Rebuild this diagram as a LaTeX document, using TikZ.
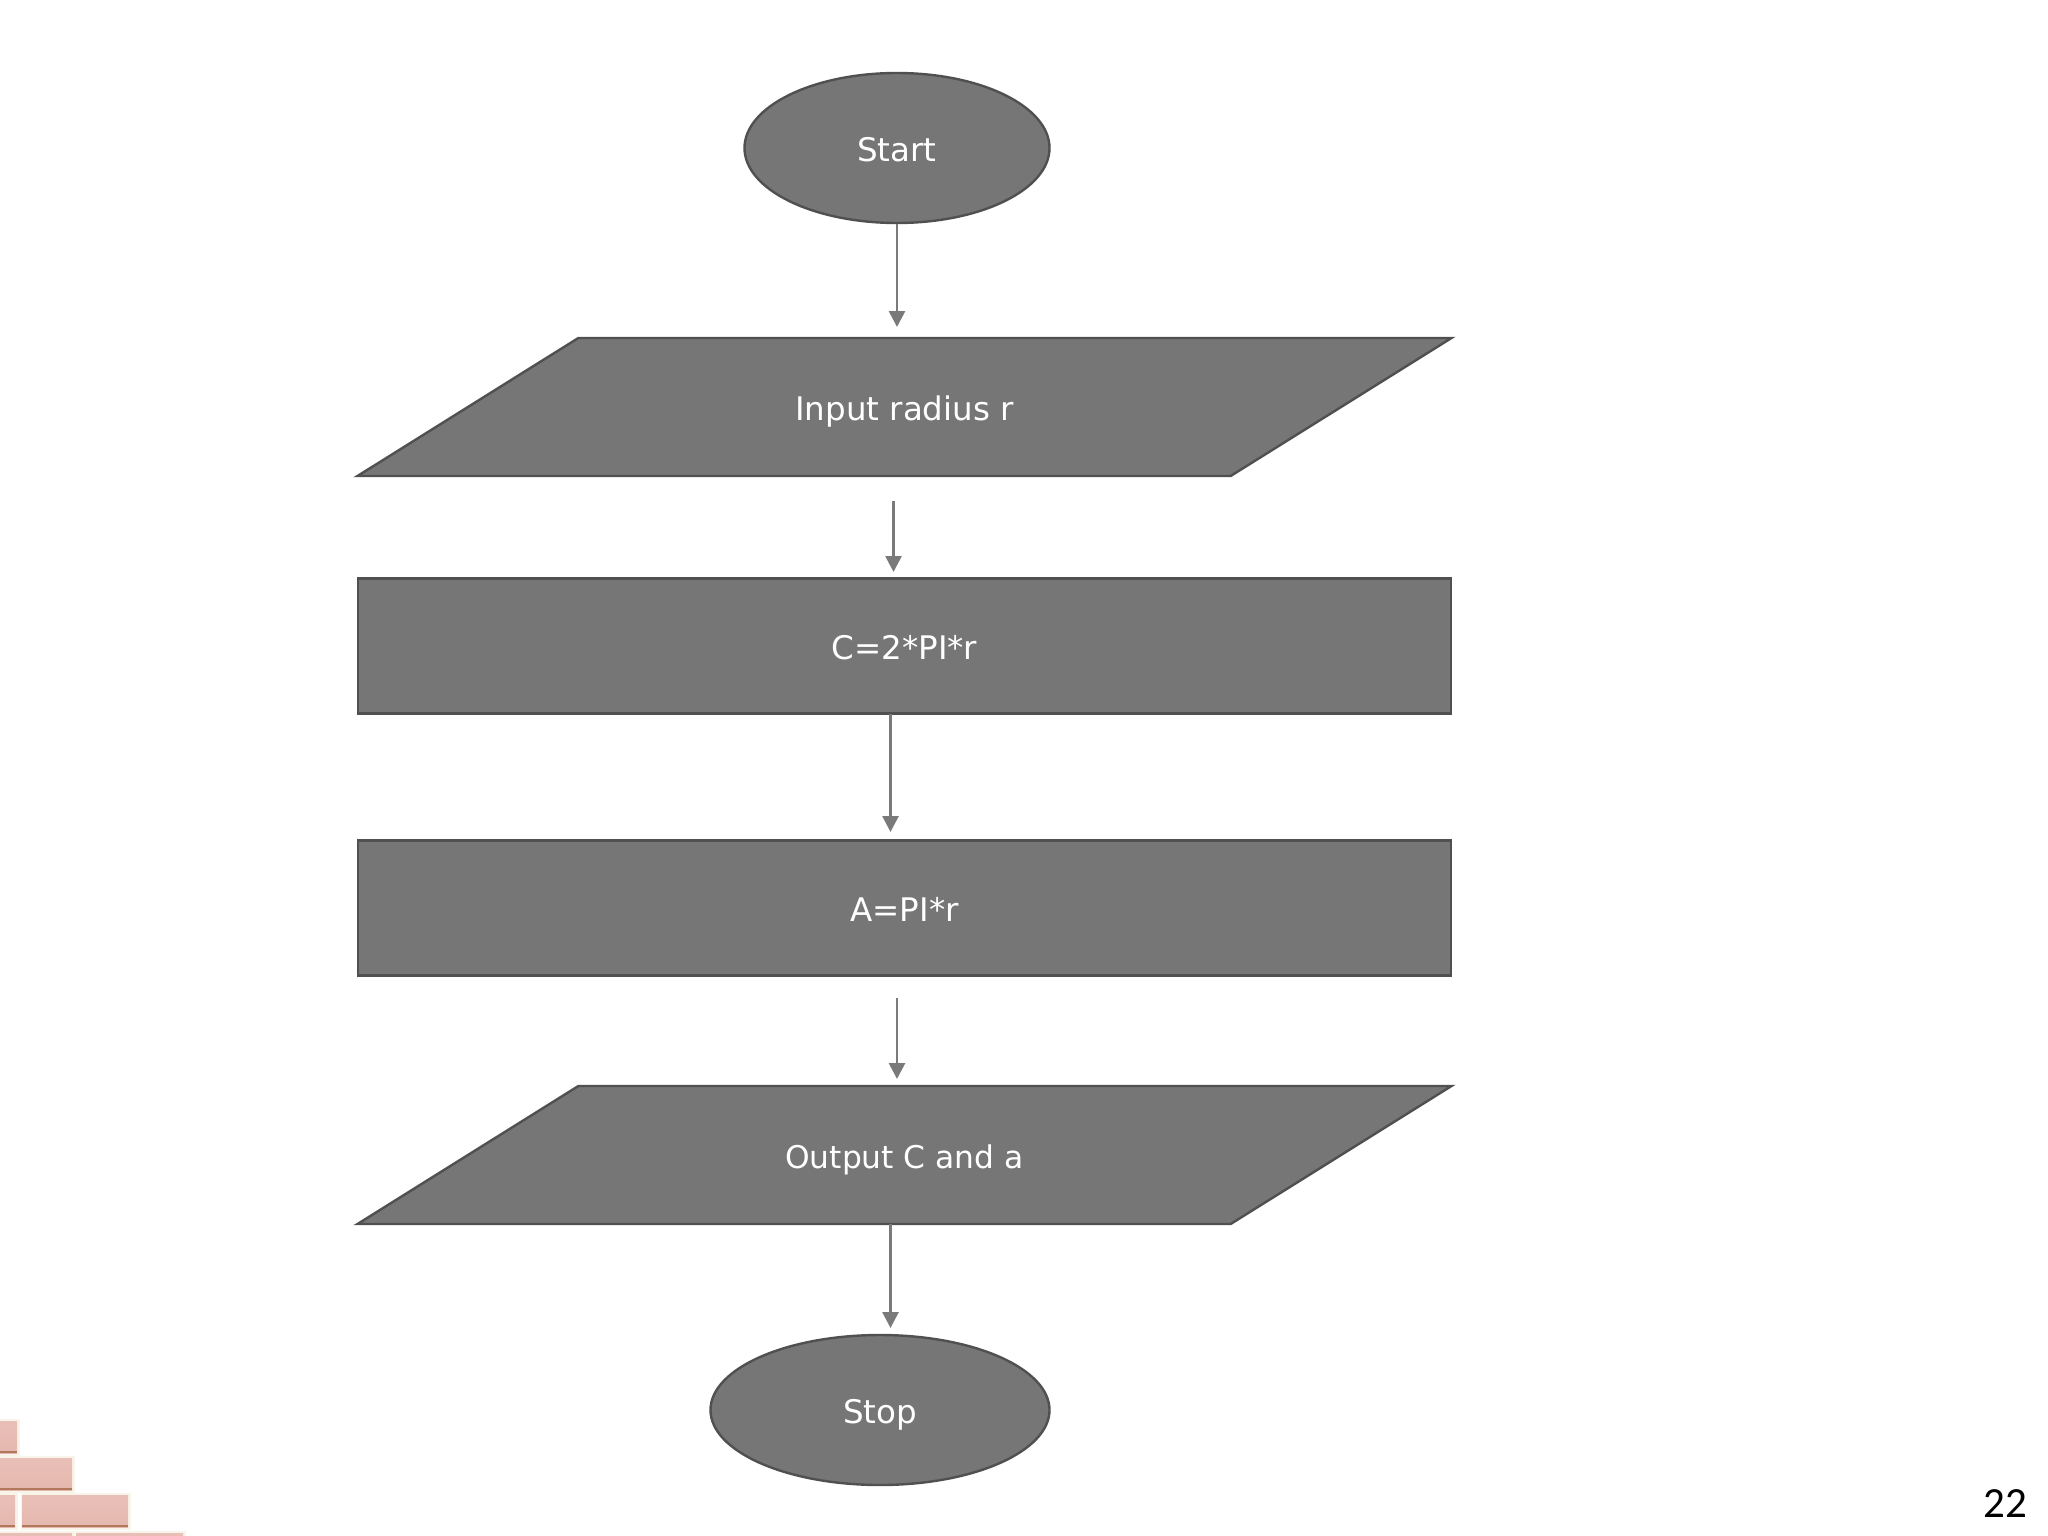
\documentclass[tikz,border=0pt]{standalone}
\usepackage{fontspec}
\setmainfont{DejaVu Sans}
\newfontfamily\pagefont{Carlito}
\usetikzlibrary{shapes.geometric,arrows.meta}
\definecolor{boxfill}{HTML}{767676}
\definecolor{boxline}{HTML}{505050}
\definecolor{flowline}{HTML}{7A7A7A}
\definecolor{brickfill}{HTML}{E6B8AF}
\definecolor{brickedge}{HTML}{B0795C}
\definecolor{brickhalo}{HTML}{F8F4EA}
\newcommand{\brick}[4]{%
  \fill[brickhalo] (#1-1,#2-2) rectangle (#3+3,#4+3);
  \shade[top color=brickfill!90!white,bottom color=brickfill] (#1,#2) rectangle (#3,#4);
  \fill[brickedge] (#1,#4-2) rectangle (#3,#4);
}

\begin{document}
\begin{tikzpicture}[x=1pt,y=-1pt]
      \tikzstyle{every node}=[draw=boxline,fill=boxfill,text=white,line width=2.4pt,
			      inner sep=0pt,text height=29pt,text depth=3pt,
			      font=\fontsize{32.5}{38}\selectfont]
      \tikzstyle{oval}=[ellipse,minimum width=305pt,minimum height=150pt]
      \tikzstyle{slanted}=[trapezium,trapezium left angle=32,trapezium right angle=148,
			   trapezium stretches body=true,inner ysep=53pt,minimum width=1094pt]
      \tikzstyle{block}=[rectangle,minimum width=1093pt,minimum height=135pt]
      \tikzstyle{flow}=[draw=flowline,line width=2.7pt,-{Triangle[length=16pt,width=16pt]}]
      \useasboundingbox (0,0) rectangle (2048,1536);
      \fill[white] (0,0) rectangle (2048,1536);
      \foreach \xa/\ya/\xb/\yb in {-5/1421/17/1453,-5/1458/72/1490,-5/1495/15/1527,
				   22/1495/128/1527,-5/1533/72/1560,76/1533/183/1560}
	\brick{\xa}{\ya}{\xb}{\yb};
      \node (start) [oval] at (897,148) {Start};
      \node (input) [slanted] at (904.5,407) {Input radius r};
      \node (circum) [block] at (904.5,646) {C=2*PI*r};
      \node (area) [block] at (904.5,908) {A=PI*r};
      \node (output) [slanted,font=\fontsize{31.3}{38}\selectfont] at (904.5,1155) {Output C and a};
      \node (stop) [oval,minimum width=339pt] at (880,1410) {Stop};
      \node (pagenum) [draw=none,fill=none,text=black,font=\pagefont\fontsize{43}{48}\selectfont]
	  at (2005,1504) {22};
      \coordinate (a1) at (897,327);
      \coordinate (b0) at (893.5,501);
      \coordinate (b1) at (893.5,572);
      \coordinate (c0) at (890.5,714);
      \coordinate (c1) at (890.5,832);
      \coordinate (d0) at (897,998);
      \coordinate (d1) at (897,1079);
      \coordinate (e0) at (890.5,1224);
      \coordinate (e1) at (890.5,1328);
      \draw[flow] (start) -- (a1);
      \draw[flow] (b0) -- (b1);
      \draw[flow] (c0) -- (c1);
      \draw[flow] (d0) -- (d1);
      \draw[flow] (e0) -- (e1);
  \end{tikzpicture}
\end{document}
